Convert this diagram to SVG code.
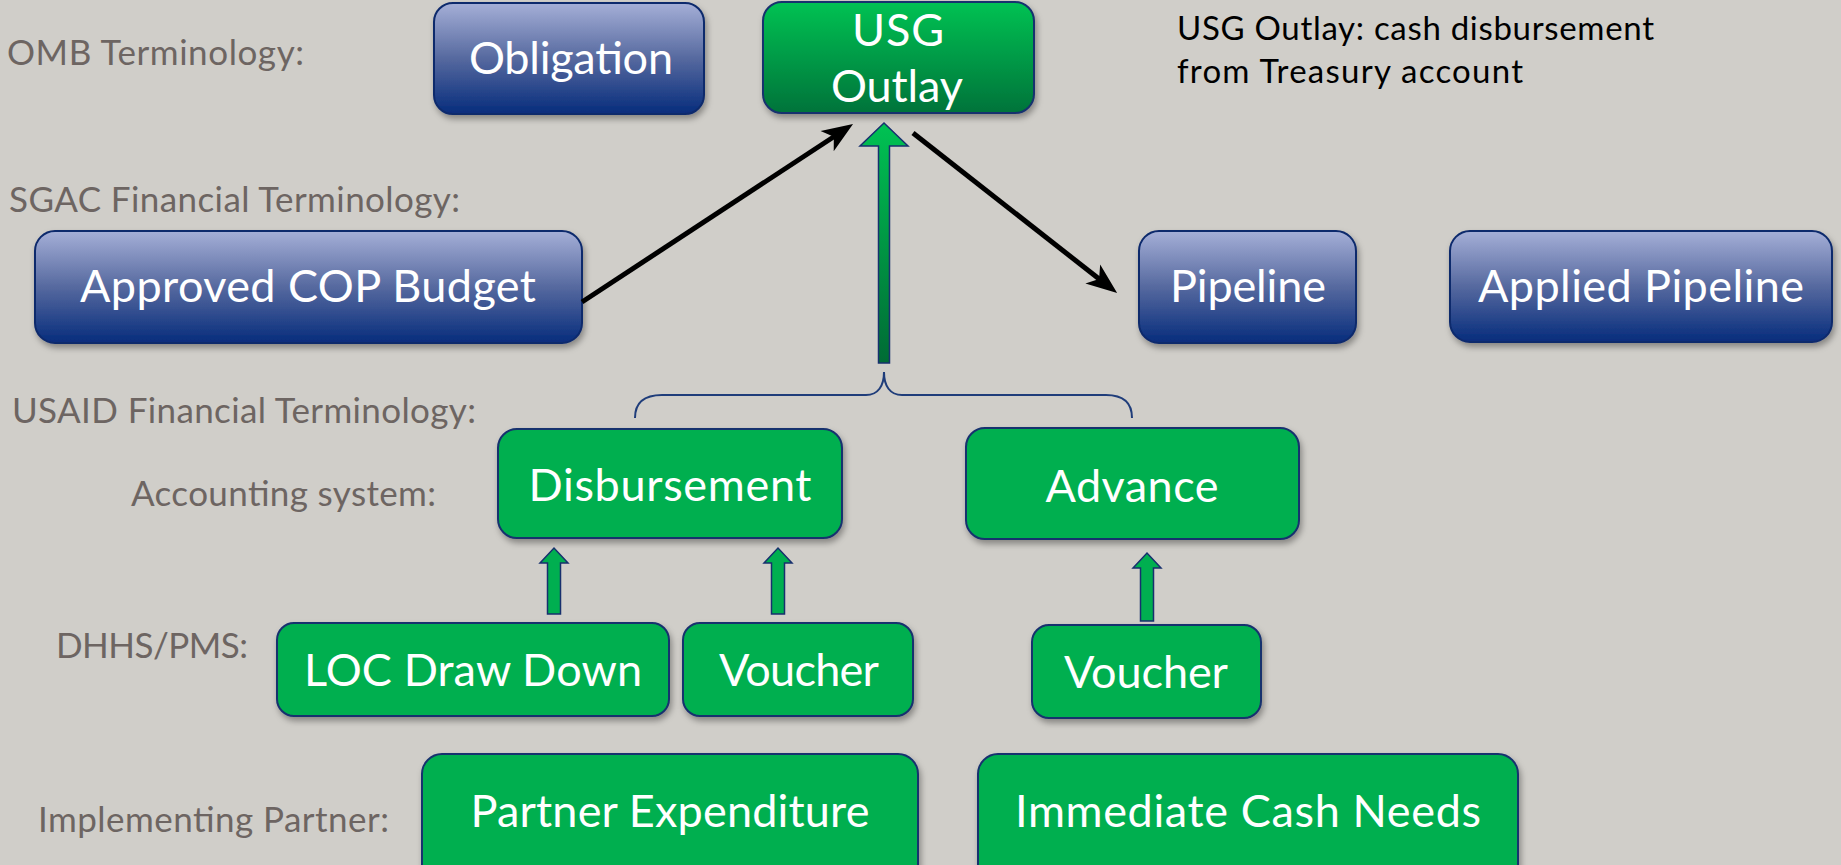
<svg xmlns="http://www.w3.org/2000/svg" width="1841" height="865" viewBox="0 0 1841 865">
<defs>
<linearGradient id="gBlue" x1="0" y1="0" x2="0" y2="1">
<stop offset="0" stop-color="#a5afd7"/>
<stop offset="0.5" stop-color="#56699f"/>
<stop offset="1" stop-color="#062c7c"/>
</linearGradient>
<linearGradient id="gUsg" x1="0" y1="0" x2="0" y2="1">
<stop offset="0" stop-color="#00c253"/>
<stop offset="1" stop-color="#00733a"/>
</linearGradient>
<linearGradient id="gArrow" x1="0" y1="0" x2="0" y2="1">
<stop offset="0" stop-color="#00c253"/>
<stop offset="1" stop-color="#006b35"/>
</linearGradient>
<filter id="sh" x="-10%" y="-10%" width="130%" height="140%">
<feDropShadow dx="2" dy="4" stdDeviation="3" flood-color="#000" flood-opacity="0.35"/>
</filter>
<marker id="ah" markerUnits="userSpaceOnUse" markerWidth="40" markerHeight="40" viewBox="-20 -20 40 40" refX="0" refY="0" orient="auto">
<path d="M18,0 L-13,-12 L-5,0 L-13,12 Z" fill="#000"/>
</marker>
<style>
.lbl{font-family:Lato,"Open Sans","Liberation Sans",sans-serif;font-size:35px;fill:#6d6562}
.bt{font-family:Lato,"Open Sans","Liberation Sans",sans-serif;font-size:45px;fill:#fff;text-anchor:middle}
.note{font-family:Lato,"Open Sans","Liberation Sans",sans-serif;font-size:33px;fill:#000}
.blue{fill:url(#gBlue);stroke:#0c2a6c;stroke-width:2;filter:url(#sh)}
.grn{fill:#00af50;stroke:#17306e;stroke-width:2;filter:url(#sh)}
.usg{fill:url(#gUsg);stroke:#17306e;stroke-width:2;filter:url(#sh)}
.sarr{fill:#00af50;stroke:#17306e;stroke-width:1.5}
.conn{stroke:#000;stroke-width:5;fill:none;marker-end:url(#ah)}
</style>
</defs>
<rect width="1841" height="865" fill="#d0cec9"/>

<g id="labels">
<text class="lbl" x="7" y="65" textLength="297">OMB Terminology:</text>
<text class="lbl" x="9" y="212" textLength="451">SGAC Financial Terminology:</text>
<text class="lbl" x="12" y="423" textLength="464">USAID Financial Terminology:</text>
<text class="lbl" x="131" y="506" textLength="305">Accounting system:</text>
<text class="lbl" x="56" y="658" textLength="192">DHHS/PMS:</text>
<text class="lbl" x="38" y="832" textLength="351">Implementing Partner:</text>
</g>

<g id="note">
<text class="note" x="1177" y="40" textLength="477">USG Outlay: cash disbursement</text>
<text class="note" x="1177" y="83" textLength="346">from Treasury account</text>
</g>

<g id="node-obligation">
<rect class="blue" x="434" y="3" width="270" height="111" rx="19"/>
<text class="bt" x="571" y="74" textLength="204">Obligation</text>
</g>
<g id="node-usg-outlay">
<rect class="usg" x="763" y="2" width="271" height="111" rx="19"/>
<text class="bt" x="898" y="46" textLength="92">USG</text>
<text class="bt" x="897" y="102" textLength="132">Outlay</text>
</g>
<g id="node-approved">
<rect class="blue" x="35" y="231" width="547" height="112" rx="20"/>
<text class="bt" x="308" y="302" textLength="456">Approved COP Budget</text>
</g>
<g id="node-pipeline">
<rect class="blue" x="1139" y="231" width="217" height="112" rx="20"/>
<text class="bt" x="1248" y="302" textLength="156">Pipeline</text>
</g>
<g id="node-applied">
<rect class="blue" x="1450" y="231" width="382" height="111" rx="20"/>
<text class="bt" x="1641" y="302" textLength="326">Applied Pipeline</text>
</g>
<g id="node-disbursement">
<rect class="grn" x="498" y="429" width="344" height="109" rx="19"/>
<text class="bt" x="670" y="501" textLength="283">Disbursement</text>
</g>
<g id="node-advance">
<rect class="grn" x="966" y="428" width="333" height="111" rx="19"/>
<text class="bt" x="1132" y="502" textLength="173">Advance</text>
</g>
<g id="node-loc">
<rect class="grn" x="277" y="623" width="392" height="93" rx="17"/>
<text class="bt" x="473" y="686" textLength="338">LOC Draw Down</text>
</g>
<g id="node-voucher1">
<rect class="grn" x="683" y="623" width="230" height="93" rx="17"/>
<text class="bt" x="799" y="686" textLength="160">Voucher</text>
</g>
<g id="node-voucher2">
<rect class="grn" x="1032" y="625" width="229" height="93" rx="17"/>
<text class="bt" x="1146" y="688" textLength="164">Voucher</text>
</g>
<g id="node-partner">
<rect class="grn" x="422" y="754" width="496" height="140" rx="20"/>
<text class="bt" x="670" y="827" textLength="399">Partner Expenditure</text>
</g>
<g id="node-cash">
<rect class="grn" x="978" y="754" width="540" height="140" rx="20"/>
<text class="bt" x="1248" y="827" textLength="466">Immediate Cash Needs</text>
</g>

<g id="connectors">
<line class="conn" x1="582" y1="302" x2="838" y2="134"/>
<line class="conn" x1="913" y1="133" x2="1103" y2="282"/>
<path d="M878.5,363 L878.5,146 L860,146 L884,123 L908,146 L889.5,146 L889.5,363 Z" fill="url(#gArrow)" stroke="#17306e" stroke-width="1.5"/>
<path d="M635,418 C635,402 645,395 662,395 L866,395 C878,395 884,386 884,372 C884,386 890,395 902,395 L1106,395 C1123,395 1132,402 1132,418" fill="none" stroke="#1f3d7a" stroke-width="2"/>
<path class="sarr" d="M547.5,614 L547.5,563 L540,563 L554,548 L568,563 L560.5,563 L560.5,614 Z"/>
<path class="sarr" d="M771.5,614 L771.5,563 L764,563 L778,548 L792,563 L784.5,563 L784.5,614 Z"/>
<path class="sarr" d="M1140.5,621 L1140.5,568 L1133,568 L1147,553 L1161,568 L1153.5,568 L1153.5,621 Z"/>
</g>
</svg>
